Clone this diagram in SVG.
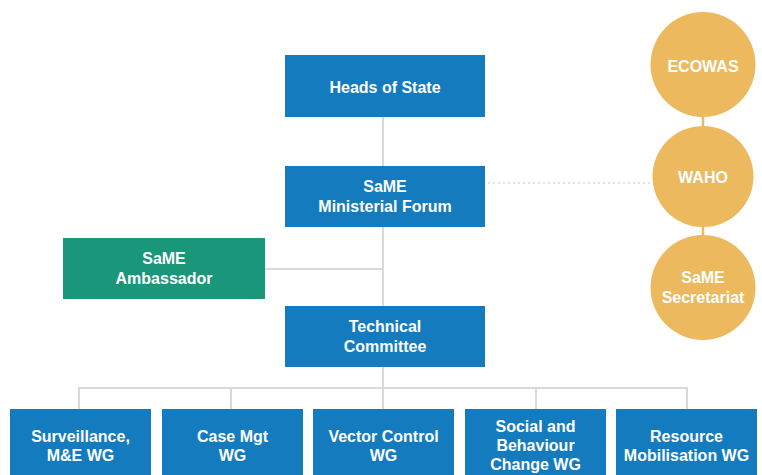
<svg xmlns="http://www.w3.org/2000/svg" width="762" height="475" viewBox="0 0 762 475">
  <style>
    .box { fill: #157BBF; }
    .amb { fill: #1A967A; }
    .circ { fill: #EDB95F; }
    .lbl { font-family: "Liberation Sans", Arial, sans-serif; font-weight: bold; font-size: 16px; fill: #FFFFFF; text-anchor: middle; }
    .link { stroke: #D9D9D9; stroke-width: 2; fill: none; }
    .dot { stroke: #D9D9D9; stroke-width: 1.5; stroke-dasharray: 2 3; fill: none; }
    .gold { stroke: #EDB95F; stroke-width: 2.5; fill: none; }
  </style>
  <rect width="762" height="475" fill="#FFFFFF"/>

  <!-- connectors -->
  <g id="connectors">
    <line class="link" x1="383" y1="117" x2="383" y2="166"/>
    <line class="link" x1="383" y1="227" x2="383" y2="306"/>
    <line class="link" x1="265" y1="269" x2="383" y2="269"/>
    <line class="link" x1="383" y1="367" x2="383" y2="409"/>
    <polyline class="link" points="79,409 79,388 687,388 687,409"/>
    <line class="link" x1="231" y1="388" x2="231" y2="409"/>
    <line class="link" x1="536" y1="388" x2="536" y2="409"/>
    <line class="dot" x1="488" y1="183" x2="653" y2="183"/>
    <line class="gold" x1="703" y1="110" x2="703" y2="135"/>
    <line class="gold" x1="703" y1="220" x2="703" y2="245"/>
  </g>

  <g id="heads-of-state">
    <rect class="box" x="285" y="55" width="200" height="62"/>
    <text class="lbl" x="385" y="93">Heads of State</text>
  </g>

  <g id="ministerial-forum">
    <rect class="box" x="285" y="166" width="200" height="61"/>
    <text class="lbl" x="385" y="192">SaME</text>
    <text class="lbl" x="385" y="212">Ministerial Forum</text>
  </g>

  <g id="ambassador">
    <rect class="amb" x="63" y="238" width="202" height="61"/>
    <text class="lbl" x="164" y="264">SaME</text>
    <text class="lbl" x="164" y="284">Ambassador</text>
  </g>

  <g id="technical-committee">
    <rect class="box" x="285" y="306" width="200" height="61"/>
    <text class="lbl" x="385" y="332">Technical</text>
    <text class="lbl" x="385" y="352">Committee</text>
  </g>

  <g id="wg-surveillance">
    <rect class="box" x="10" y="409" width="141" height="70"/>
    <text class="lbl" x="80.5" y="442">Surveillance,</text>
    <text class="lbl" x="80.5" y="460.5">M&amp;E WG</text>
  </g>

  <g id="wg-case">
    <rect class="box" x="162" y="409" width="141" height="70"/>
    <text class="lbl" x="232.5" y="442">Case Mgt</text>
    <text class="lbl" x="232.5" y="460.5">WG</text>
  </g>

  <g id="wg-vector">
    <rect class="box" x="313" y="409" width="141" height="70"/>
    <text class="lbl" x="383.5" y="442">Vector Control</text>
    <text class="lbl" x="383.5" y="460.5">WG</text>
  </g>

  <g id="wg-sbc">
    <rect class="box" x="465" y="409" width="141" height="70"/>
    <text class="lbl" x="535.5" y="432">Social and</text>
    <text class="lbl" x="535.5" y="451">Behaviour</text>
    <text class="lbl" x="535.5" y="470">Change WG</text>
  </g>

  <g id="wg-resource">
    <rect class="box" x="616" y="409" width="141" height="70"/>
    <text class="lbl" x="686.5" y="442">Resource</text>
    <text class="lbl" x="686.5" y="460.5">Mobilisation WG</text>
  </g>

  <g id="ecowas">
    <circle class="circ" cx="703" cy="64.5" r="52.5"/>
    <text class="lbl" x="703" y="72">ECOWAS</text>
  </g>

  <g id="waho">
    <circle class="circ" cx="703" cy="176.5" r="50.5"/>
    <text class="lbl" x="703" y="183">WAHO</text>
  </g>

  <g id="secretariat">
    <circle class="circ" cx="703" cy="287.5" r="52.5"/>
    <text class="lbl" x="703" y="283">SaME</text>
    <text class="lbl" x="703" y="303">Secretariat</text>
  </g>
</svg>
